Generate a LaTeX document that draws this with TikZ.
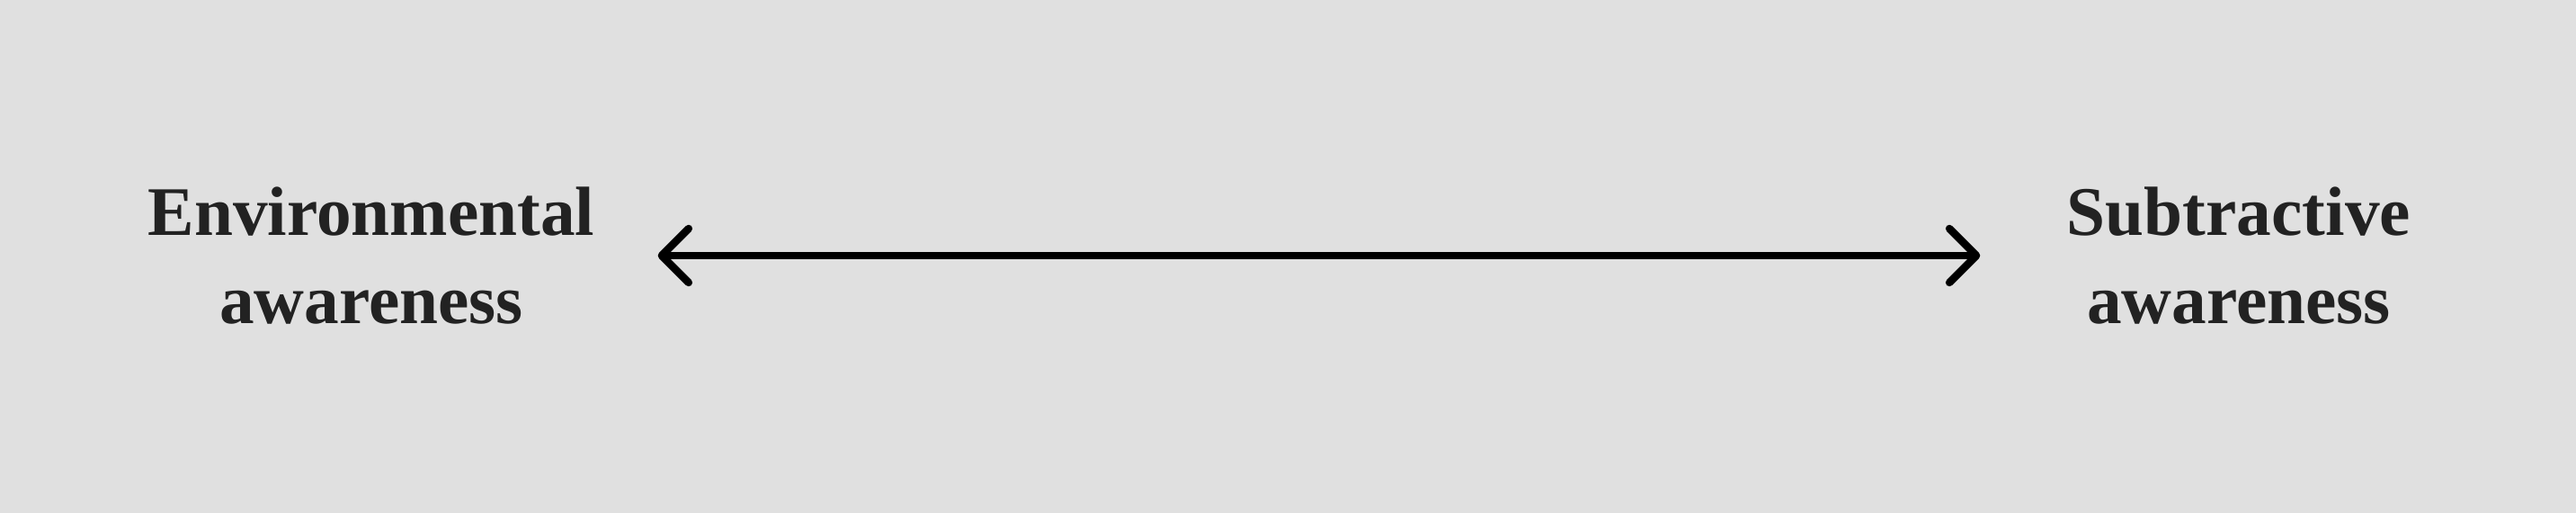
\documentclass[tikz,border=0pt]{standalone}
\usepackage{fontspec}
\setmainfont{Liberation Serif}
\usetikzlibrary{arrows.meta}
\definecolor{bggray}{HTML}{E0E0E0}
\definecolor{inkgray}{HTML}{222222}
\tikzset{
	awaretext/.style={text=inkgray, font=\fontsize{22}{28}\selectfont\bfseries, align=center, text width=5.2cm, inner sep=0pt},
	linkarrow/.style={line width=2.4pt, line cap=round, line join=round, {Straight Barb[length=3mm, width=6mm, line width=2.4pt, round]}-{Straight Barb[length=3mm, width=6mm, line width=2.4pt, round]}}
}
\begin{document}
\begin{tikzpicture}[scale=1, line join=round, line cap=round]
	\fill[bggray] (0,0) rectangle (28.65,5.7);
	\useasboundingbox (0,0) rectangle (28.65,5.7);
	\node[awaretext] (env) at (4.13,2.86) {Environmental\\awareness};
	\node[awaretext] (sub) at (24.90,2.86) {Subtractive\\awareness};
	\draw[linkarrow, shorten <=0.58cm, shorten >=0.27cm] (env.east) -- (sub.west);
\end{tikzpicture}
\end{document}
